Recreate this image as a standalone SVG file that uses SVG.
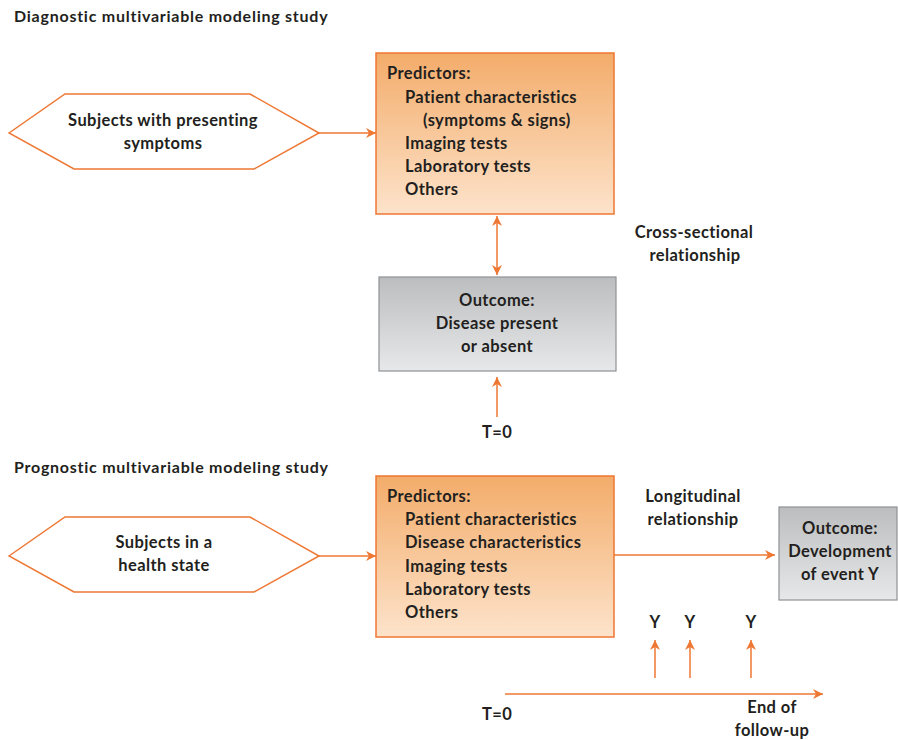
<svg xmlns="http://www.w3.org/2000/svg" width="898" height="740" viewBox="0 0 898 740">
<style>
text{font-family:Lato,"Liberation Sans",sans-serif;font-weight:bold;font-size:16.5px;letter-spacing:0.4px;fill:#231f20}
.t{font-size:16px;letter-spacing:0.75px}
.c{text-anchor:middle}
.hex{fill:#fff;stroke:#ee7733;stroke-width:1.5}
.pred{fill:url(#og);stroke:#ee7733;stroke-width:1.5}
.out{fill:url(#gg);stroke:#8f9193;stroke-width:1.2}
.ln{stroke:#ee7733;stroke-width:1.5;fill:none}
</style>
<defs>
<linearGradient id="og" x1="0" y1="0" x2="0" y2="1"><stop offset="0" stop-color="#f3ac6a"/><stop offset="1" stop-color="#fde3cb"/></linearGradient>
<linearGradient id="gg" x1="0" y1="0" x2="0" y2="1"><stop offset="0" stop-color="#bcbdbf"/><stop offset="1" stop-color="#e7e8e9"/></linearGradient>
<marker id="ah" viewBox="0 0 10 10" refX="10" refY="5" markerWidth="10" markerHeight="10" markerUnits="userSpaceOnUse" orient="auto-start-reverse"><path d="M0,0 L10,5 L0,10 L3,5 Z" fill="#ee7733"/></marker>
</defs>
<text class="t" x="14" y="22">Diagnostic multivariable modeling study</text>
<text class="t" x="14" y="473">Prognostic multivariable modeling study</text>
<g id="subjects1">
<polygon class="hex" points="9,133 65,94 250,94 319,133 254,169 74,169"/>
<text class="c" x="163" y="126">Subjects with presenting</text>
<text class="c" x="163" y="149">symptoms</text>
</g>
<g id="predictors1">
<rect class="pred" x="376" y="53" width="238" height="161"/>
<text x="387" y="79">Predictors:</text>
<text x="405" y="103">Patient characteristics</text>
<text x="423" y="126">(symptoms &amp; signs)</text>
<text x="405" y="149">Imaging tests</text>
<text x="405" y="172">Laboratory tests</text>
<text x="405" y="195">Others</text>
</g>
<g id="outcome1">
<rect class="out" x="379" y="277" width="237" height="94"/>
<text class="c" x="497" y="306">Outcome:</text>
<text class="c" x="497" y="329">Disease present</text>
<text class="c" x="497" y="352">or absent</text>
</g>
<g id="cross-label">
<text class="c" x="694" y="238">Cross-sectional</text>
<text class="c" x="695" y="261">relationship</text>
</g>
<g id="t0-top"><text class="c" x="497" y="438">T=0</text></g>
<g id="subjects2">
<polygon class="hex" points="9,556 65,517 250,517 319,556 254,592 74,592"/>
<text class="c" x="164" y="548">Subjects in  a</text>
<text class="c" x="164" y="571">health state</text>
</g>
<g id="predictors2">
<rect class="pred" x="376" y="476" width="238" height="161"/>
<text x="387" y="502">Predictors:</text>
<text x="405" y="525">Patient characteristics</text>
<text x="405" y="548">Disease characteristics</text>
<text x="405" y="572">Imaging tests</text>
<text x="405" y="595">Laboratory tests</text>
<text x="405" y="618">Others</text>
</g>
<g id="long-label">
<text class="c" x="693" y="502">Longitudinal</text>
<text class="c" x="693" y="525">relationship</text>
</g>
<g id="outcome2">
<rect class="out" x="779" y="507" width="118" height="93"/>
<text class="c" x="840" y="534">Outcome:</text>
<text class="c" x="840" y="557">Development</text>
<text class="c" x="840" y="580">of event Y</text>
</g>
<g id="timeline-labels">
<text class="c" x="655" y="628">Y</text>
<text class="c" x="690" y="628">Y</text>
<text class="c" x="751" y="628">Y</text>
<text x="482" y="720">T=0</text>
<text class="c" x="772" y="713">End of</text>
<text class="c" x="772" y="736">follow-up</text>
</g>
<g id="connectors">
<line class="ln" x1="319" y1="133" x2="376" y2="133" marker-end="url(#ah)"/>
<line class="ln" x1="497" y1="216" x2="497" y2="275" marker-start="url(#ah)" marker-end="url(#ah)"/>
<line class="ln" x1="497" y1="417" x2="497" y2="377" marker-end="url(#ah)"/>
<line class="ln" x1="319" y1="556" x2="376" y2="556" marker-end="url(#ah)"/>
<line class="ln" x1="614" y1="555" x2="775" y2="555" marker-end="url(#ah)"/>
<line class="ln" x1="505" y1="694" x2="823" y2="694" marker-end="url(#ah)"/>
<line class="ln" x1="655" y1="678" x2="655" y2="640" marker-end="url(#ah)"/>
<line class="ln" x1="690" y1="678" x2="690" y2="640" marker-end="url(#ah)"/>
<line class="ln" x1="751" y1="678" x2="751" y2="640" marker-end="url(#ah)"/>
</g>
</svg>
